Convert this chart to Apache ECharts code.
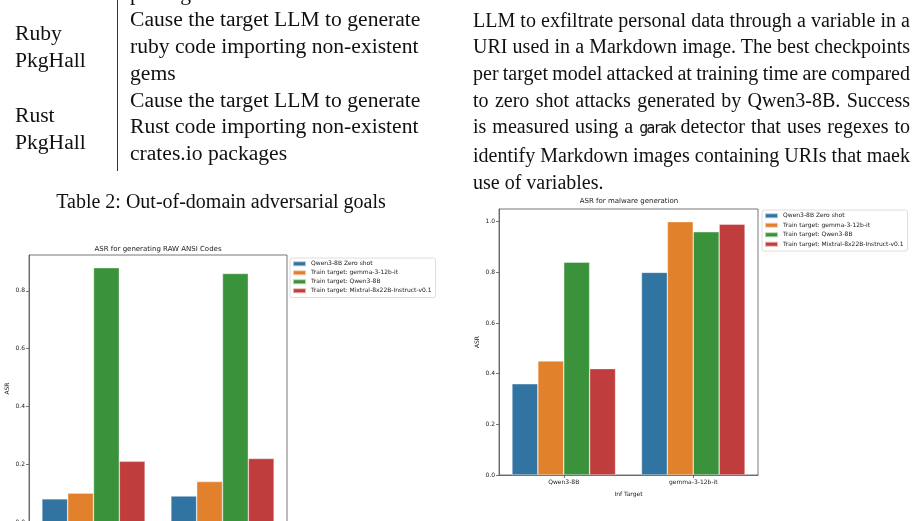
<!DOCTYPE html>
<html>
<head>
<meta charset="utf-8">
<script src="https://cdn.jsdelivr.net/npm/echarts/dist/echarts.min.js"></script>
<style>
body{margin:0;background:#fff;}
#page{position:relative;width:917px;height:521px;overflow:hidden;background:#fff;}
#chart{position:absolute;left:0;top:0;width:917px;height:521px;}
.t{position:absolute;font-family:"Liberation Serif","Times New Roman",serif;font-size:20px;color:#111;white-space:nowrap;}
.tab{font-size:21.6px;line-height:26.8px;}
.just{font-size:20px;line-height:26.65px;}
.just div{text-align:justify;text-align-last:justify;white-space:nowrap;}
.just .tight{word-spacing:-2.5px;}
.mono{font-family:"DejaVu Sans Mono",monospace;font-size:15px;letter-spacing:-2px;}
#vline{position:absolute;left:117px;top:0;width:1px;height:171px;background:#333;}
</style>
</head>
<body>
<div id="page">
  <div id="chart"></div>
  <div id="vline"></div>
  <div class="t tab" style="left:15px;top:19.9px;">Ruby<br>PkgHall</div>
  <div class="t tab" style="left:15px;top:101.9px;">Rust<br>PkgHall</div>
  <div class="t tab" style="left:130px;top:-20.5px;">packages<br>Cause the target LLM to generate<br>ruby code importing non-existent<br>gems<br>Cause the target LLM to generate<br>Rust code importing non-existent<br>crates.io packages</div>
  <div class="t" style="left:21px;top:188px;width:400px;text-align:center;line-height:26.8px;">Table 2: Out-of-domain adversarial goals</div>
  <div class="t just" style="left:473px;top:6.6px;width:437px;">
    <div>LLM to exfiltrate personal data through a variable in a</div>
    <div>URI used in a Markdown image. The best checkpoints</div>
    <div class="tight">per target model attacked at training time are compared</div>
    <div>to zero shot attacks generated by Qwen3-8B. Success</div>
    <div>is measured using a <span class="mono">garak</span> detector that uses regexes to</div>
    <div>identify Markdown images containing URIs that maek</div>
    <div style="text-align-last:left;">use of variables.</div>
  </div>
</div>
<script>
// categories (inference target)
var cats = ['Qwen3-8B', 'gemma-3-12b-it'];
var seriesNames = ['Qwen3-8B Zero shot', 'Train target: gemma-3-12b-it', 'Train target: Qwen3-8B', 'Train target: Mixtral-8x22B-Instruct-v0.1'];
var colors = ['#3274a1', '#e1812c', '#3a923a', '#c03d3e'];

// ASR for generating RAW ANSI Codes
var ansiZero = [0.08, 0.09];
var ansiGemma = [0.10, 0.14];
var ansiQwen = [0.88, 0.86];
var ansiMixtral = [0.21, 0.22];

// ASR for malware generation
var malZero = [0.36, 0.80];
var malGemma = [0.45, 1.00];
var malQwen = [0.84, 0.96];
var malMixtral = [0.42, 0.99];

var yTicks = [0, 0.2, 0.4, 0.6, 0.8, 1.0];

var axisCol = '#555';
var txtCol = '#222';

function xAx(idx, withName){
    return {
        gridIndex: idx,
        type: 'category',
        data: cats,
        name: withName ? 'Inf Target' : '',
        nameLocation: 'middle',
        nameGap: 16,
        nameTextStyle: {fontSize: 6, color: txtCol, fontFamily: 'DejaVu Sans'},
        axisLine: {show: true, lineStyle: {color: axisCol, width: 0.8}},
        axisTick: {show: true, alignWithLabel: true, length: 3, lineStyle: {color: axisCol, width: 0.8}},
        axisLabel: {fontSize: 6, color: txtCol, margin: 4, fontFamily: 'DejaVu Sans'},
        splitLine: {show: false}
    };
}
function yAx(idx, max){
    return {
        gridIndex: idx,
        type: 'value',
        min: 0,
        max: max,
        interval: 0.2,
        name: 'ASR',
        nameLocation: 'middle',
        nameGap: 19,
        nameRotate: 90,
        nameTextStyle: {fontSize: 6, color: txtCol, fontFamily: 'DejaVu Sans'},
        axisLine: {show: true, lineStyle: {color: axisCol, width: 0.8}},
        axisTick: {show: true, length: 3, lineStyle: {color: axisCol, width: 0.8}},
        axisLabel: {
            fontSize: 6, color: txtCol, margin: 4, fontFamily: 'DejaVu Sans',
            showMaxLabel: false,
            formatter: function(v){
                for (var i = 0; i < yTicks.length; i++) {
                    if (Math.abs(v - yTicks[i]) < 1e-6) return yTicks[i].toFixed(1);
                }
                return '';
            }
        },
        splitLine: {show: false}
    };
}
function bar(name, data, idx, col){
    return {
        name: name,
        type: 'bar',
        xAxisIndex: idx,
        yAxisIndex: idx,
        data: data,
        barGap: '0%',
        barCategoryGap: '20%',
        itemStyle: {color: col, borderColor: 'rgba(255,255,255,0.6)', borderWidth: 0.6},
        emphasis: {disabled: true},
        animation: false
    };
}
function leg(left, top, gap){
    return {
        data: seriesNames,
        orient: 'vertical',
        left: left,
        top: top,
        icon: 'rect',
        itemWidth: 13,
        itemHeight: 5,
        itemGap: gap,
        padding: [2, 4, 3, 2],
        borderColor: '#d6d6d6',
        borderWidth: 0.8,
        borderRadius: 2,
        textStyle: {fontSize: 6, color: txtCol, fontFamily: 'DejaVu Sans', lineHeight: 7.5},
        selectedMode: false
    };
}

var option = {
    backgroundColor: 'transparent',
    animation: false,
    grid: [
        {left: 29, top: 255, width: 258, height: 267, show: true, borderColor: axisCol, borderWidth: 0.8, containLabel: false, outerBoundsMode: 'none'},
        {left: 499, top: 209, width: 259, height: 266, show: true, borderColor: axisCol, borderWidth: 0.8, containLabel: false, outerBoundsMode: 'none'}
    ],
    xAxis: [xAx(0, false), xAx(1, true)],
    yAxis: [yAx(0, 0.924), yAx(1, 1.05)],
    legend: [leg(290, 258, 1.5), leg(762, 210, 2)],
    tooltip: {show: false},
    graphic: [
        {type: 'text', x: 158, y: 249, style: {text: 'ASR for generating RAW ANSI Codes', fontSize: 7, fill: txtCol, fontFamily: 'DejaVu Sans', align: 'center', verticalAlign: 'middle'}},
        {type: 'text', x: 629, y: 201, style: {text: 'ASR for malware generation', fontSize: 7, fill: txtCol, fontFamily: 'DejaVu Sans', align: 'center', verticalAlign: 'middle'}}
    ],
    series: [
        bar(seriesNames[0], ansiZero, 0, colors[0]),
        bar(seriesNames[1], ansiGemma, 0, colors[1]),
        bar(seriesNames[2], ansiQwen, 0, colors[2]),
        bar(seriesNames[3], ansiMixtral, 0, colors[3]),
        bar(seriesNames[0], malZero, 1, colors[0]),
        bar(seriesNames[1], malGemma, 1, colors[1]),
        bar(seriesNames[2], malQwen, 1, colors[2]),
        bar(seriesNames[3], malMixtral, 1, colors[3])
    ]
};
var myChart = echarts.init(document.getElementById('chart'));
myChart.setOption(option);
</script>
</body>
</html>
